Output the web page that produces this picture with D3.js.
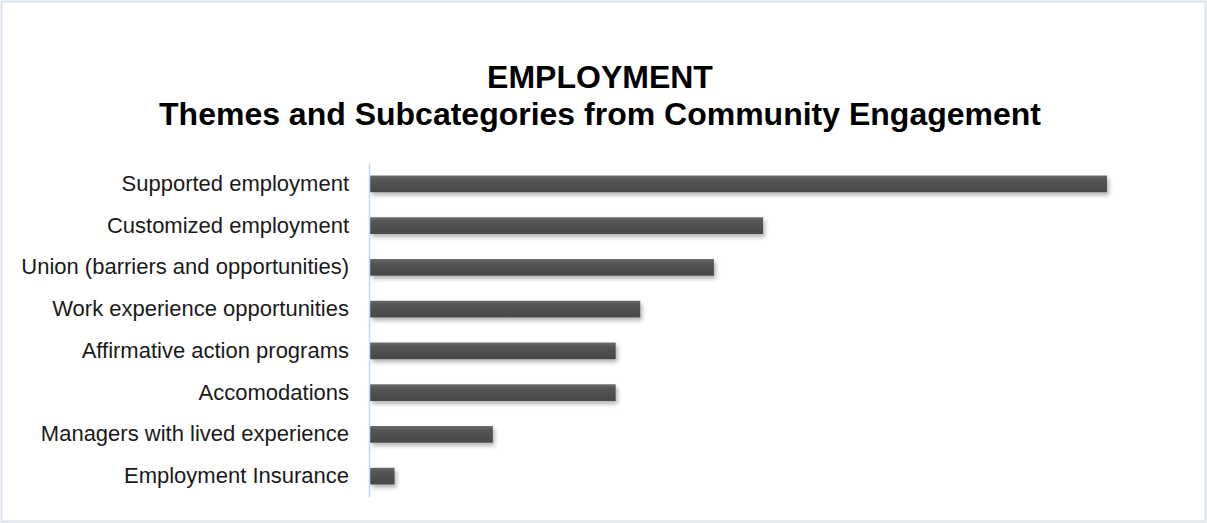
<!DOCTYPE html>
<html>
<head>
<meta charset="utf-8">
<script src="https://cdn.jsdelivr.net/npm/d3@7"></script>
<style>
  body { margin: 0; background: #fff; }
  svg { display: block; font-family: "Liberation Sans", Arial, sans-serif; }
</style>
</head>
<body>
<div id="chart"></div>
<script>
/* Employment themes horizontal bar chart */

const categories = [
    "Supported employment",
    "Customized employment",
    "Union (barriers and opportunities)",
    "Work experience opportunities",
    "Affirmative action programs",
    "Accomodations",
    "Managers with lived experience",
    "Employment Insurance"
];
const counts = [30, 16, 14, 11, 10, 10, 5, 1];
const titleLines = ["EMPLOYMENT", "Themes and Subcategories from Community Engagement"];

const data = categories.map((c, i) => ({ key: c, value: counts[i] }));

const width = 1207,
      height = 523,
      margin = ({ top: 163, right: 100, bottom: 26, left: 370 });

let svg = d3.select("#chart")
    .append("svg")
    .attr("width", width)
    .attr("height", height);

// drop shadow for bars
let defs = svg.append("defs");
let shadow = defs.append("filter")
    .attr("id", "shadow")
    .attr("x", "-10%").attr("y", "-50%")
    .attr("width", "130%").attr("height", "250%");
shadow.append("feDropShadow")
    .attr("dx", 2).attr("dy", 3)
    .attr("stdDeviation", 2)
    .attr("flood-color", "#000")
    .attr("flood-opacity", 0.3);

let grad = defs.append("linearGradient")
    .attr("id", "barfill")
    .attr("x1", 0).attr("y1", 0).attr("x2", 0).attr("y2", 1);
grad.append("stop").attr("offset", "0%").attr("stop-color", "#6a6a6a");
grad.append("stop").attr("offset", "25%").attr("stop-color", "#555555");
grad.append("stop").attr("offset", "100%").attr("stop-color", "#474747");

// chart border
svg.append("rect")
    .attr("x", 1.5).attr("y", 1.5)
    .attr("width", width - 3).attr("height", height - 3)
    .attr("fill", "#fff")
    .attr("stroke", "#d9e3f0")
    .attr("stroke-width", 2);

let x = d3.scaleLinear()
    .domain([0, 30])
    .range([margin.left, 1107]);

let y = d3.scaleBand()
    .domain(categories)
    .range([margin.top, height - margin.bottom])
    .paddingInner(0.6)
    .paddingOuter(0.3);

// title
svg.append("text")
    .attr("text-anchor", "middle")
    .style("font-weight", "bold")
    .style("font-size", "32px")
    .style("fill", "#000")
    .selectAll("tspan")
    .data(titleLines)
    .join("tspan")
    .attr("x", 600)
    .attr("y", (d, i) => 88 + i * 37)
    .text(d => d);

// bars
svg.append("g")
    .selectAll("rect")
    .data(data)
    .join("rect")
    .attr("x", x(0))
    .attr("y", d => y(d.key))
    .attr("width", d => x(d.value) - x(0))
    .attr("height", y.bandwidth())
    .attr("fill", "url(#barfill)")
    .attr("filter", "url(#shadow)");

// category axis
let yAxis = svg.append("g")
    .attr("transform", `translate(${margin.left - 1},0)`)
    .call(d3.axisLeft(y).tickSize(0).tickPadding(20));

yAxis.select(".domain")
    .attr("stroke", "#c5d9f1")
    .attr("stroke-width", 1.5);

yAxis.selectAll("text")
    .style("font-family", "'Liberation Sans', Arial, sans-serif")
    .style("font-size", "22px")
    .style("fill", "#1a1a1a");
</script>
</body>
</html>
